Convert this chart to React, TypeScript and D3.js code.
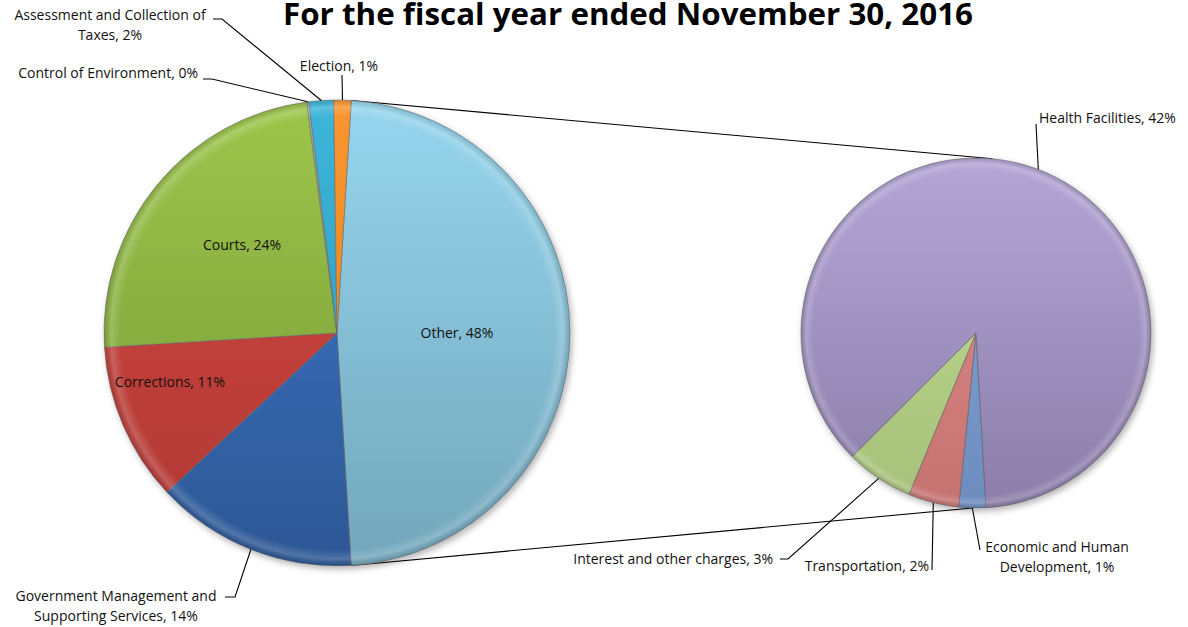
import React from 'react';
import * as d3 from 'd3';

// ---------- data ----------
const leftCategories = [
  'Other',
  'Government Management and Supporting Services',
  'Corrections',
  'Courts',
  'Control of Environment',
  'Assessment and Collection of Taxes',
  'Election',
];
const leftValues = [48.05, 14.0, 11.0, 23.9, 0.15, 1.7, 1.2];

const rightCategories = [
  'Economic and Human Development',
  'Transportation',
  'Interest and other charges',
  'Health Facilities',
];
const rightValues = [1.2, 2.25, 3.0, 41.6];

const title = 'For the fiscal year ended November 30, 2016';

// ---------- layout / style ----------
const W = 1188;
const H = 627;
const L = { cx: 337, cy: 333, r: 233 };
const R = { cx: 976, cy: 333, r: 175 };
const FONT = '"Open Sans", Lato, sans-serif';

const colors: Record<string, [string, string]> = {
  Other: ['#96D6EE', '#72A6BB'],
  'Government Management and Supporting Services': ['#4079CC', '#2C5794'],
  Corrections: ['#D4473F', '#AE3835'],
  Courts: ['#9DC64A', '#759638'],
  'Control of Environment': ['#A8A8A0', '#8A8A84'],
  'Assessment and Collection of Taxes': ['#3CB6DA', '#2A8FB0'],
  Election: ['#FA9630', '#E07E1C'],
  'Health Facilities': ['#B3A5D6', '#8C7EAA'],
  'Interest and other charges': ['#C4DE98', '#A6C07A'],
  Transportation: ['#E58E8B', '#C47270'],
  'Economic and Human Development': ['#8AA9DE', '#6C8CBE'],
};

type LabelLayout = {
  x: number;
  y: number;
  anchor: 'start' | 'middle' | 'end';
  lines?: number; // number of words on first line when wrapped
};

const labelLayout: Record<string, LabelLayout> = {
  Other: { x: 457, y: 338, anchor: 'middle' },
  'Government Management and Supporting Services': { x: 116, y: 601, anchor: 'middle', lines: 3 },
  Corrections: { x: 170, y: 387, anchor: 'middle' },
  Courts: { x: 242, y: 250, anchor: 'middle' },
  'Control of Environment': { x: 198, y: 78, anchor: 'end' },
  'Assessment and Collection of Taxes': { x: 110, y: 20, anchor: 'middle', lines: 4 },
  Election: { x: 339, y: 71, anchor: 'middle' },
  'Health Facilities': { x: 1039, y: 123, anchor: 'start' },
  'Interest and other charges': { x: 773, y: 564, anchor: 'end' },
  Transportation: { x: 929, y: 571, anchor: 'end' },
  'Economic and Human Development': { x: 1057, y: 552, anchor: 'middle', lines: 3 },
};

// leader start points (next to the label text)
const leaderStart: Record<string, [number, number][]> = {
  'Government Management and Supporting Services': [[225, 597], [235, 597]],
  'Control of Environment': [[203, 79], [212, 79]],
  'Assessment and Collection of Taxes': [[213, 19], [222, 19]],
  Election: [[342, 75]],
  'Health Facilities': [[1036, 124]],
  'Interest and other charges': [[780, 559], [788, 559]],
  Transportation: [[932, 570]],
  'Economic and Human Development': [[980, 550]],
};

const deg = Math.PI / 180;

function pointAt(c: { cx: number; cy: number }, r: number, a: number): [number, number] {
  return [c.cx + r * Math.sin(a), c.cy - r * Math.cos(a)];
}

function labelText(cat: string, v: number) {
  return `${cat}, ${Math.round(v)}%`;
}

export default function App() {
  const otherShare = leftValues[0] / d3.sum(leftValues);
  const leftStart = Math.PI / 2 - otherShare * Math.PI;
  const leftPie = d3
    .pie<number>()
    .sort(null)
    .value((d) => d)
    .startAngle(leftStart)
    .endAngle(leftStart + 2 * Math.PI);
  const rightStart = 176.7 * deg;
  const rightPie = d3
    .pie<number>()
    .sort(null)
    .value((d) => d)
    .startAngle(rightStart)
    .endAngle(rightStart + 2 * Math.PI);

  const leftArcs = leftPie(leftValues);
  const rightArcs = rightPie(rightValues);
  const arcL = d3.arc<d3.PieArcDatum<number>>().innerRadius(0).outerRadius(L.r);
  const arcR = d3.arc<d3.PieArcDatum<number>>().innerRadius(0).outerRadius(R.r);

  const otherArc = leftArcs[0];
  const topL = pointAt(L, L.r, otherArc.startAngle);
  const botL = pointAt(L, L.r, otherArc.endAngle);
  const topR = pointAt(R, R.r, 5.4 * deg);
  const botR = pointAt(R, R.r, 181 * deg);

  const gradId = (cat: string) => 'g' + cat.replace(/[^A-Za-z]/g, '');

  const renderLabel = (cat: string, v: number, arcMid: [number, number]) => {
    const lay = labelLayout[cat];
    const txt = labelText(cat, v);
    let lines = [txt];
    if (lay.lines) {
      const words = txt.split(' ');
      lines = [words.slice(0, lay.lines).join(' '), words.slice(lay.lines).join(' ')];
    }
    const start = leaderStart[cat];
    const pts = start ? [...start, arcMid] : null;
    return (
      <g key={cat}>
        {pts && (
          <polyline
            points={pts.map((p) => p.join(',')).join(' ')}
            fill="none"
            stroke="#000"
            strokeWidth={1.1}
          />
        )}
        <text
          x={lay.x}
          y={lay.y}
          textAnchor={lay.anchor}
          fontFamily={FONT}
          fontSize={14}
          fill="#111"
        >
          {lines.map((ln, i) => (
            <tspan key={i} x={lay.x} dy={i === 0 ? 0 : 20}>
              {ln}
            </tspan>
          ))}
        </text>
      </g>
    );
  };

  const bevel = (id: string, r: number) => (
    <radialGradient id={id} gradientUnits="userSpaceOnUse" cx={0} cy={0} r={r}>
      <stop offset="0%" stopColor="#fff" stopOpacity={0} />
      <stop offset="93%" stopColor="#fff" stopOpacity={0} />
      <stop offset="97%" stopColor="#fff" stopOpacity={0.18} />
      <stop offset="100%" stopColor="#000" stopOpacity={0.12} />
    </radialGradient>
  );

  return (
    <svg
      width={W}
      height={H}
      viewBox={`0 0 ${W} ${H}`}
      style={{ position: 'absolute', left: 0, top: 0, background: '#fff' }}
    >
      <defs>
        {leftCategories.map((c) => (
          <linearGradient
            key={c}
            id={gradId(c)}
            gradientUnits="userSpaceOnUse"
            x1={0}
            y1={-L.r}
            x2={0}
            y2={L.r}
          >
            <stop offset="0%" stopColor={colors[c][0]} />
            <stop offset="100%" stopColor={colors[c][1]} />
          </linearGradient>
        ))}
        {rightCategories.map((c) => (
          <linearGradient
            key={c}
            id={gradId(c)}
            gradientUnits="userSpaceOnUse"
            x1={0}
            y1={-R.r}
            x2={0}
            y2={R.r}
          >
            <stop offset="0%" stopColor={colors[c][0]} />
            <stop offset="100%" stopColor={colors[c][1]} />
          </linearGradient>
        ))}
        {bevel('bevelL', L.r)}
        {bevel('bevelR', R.r)}
        <filter id="shadow" x="-10%" y="-10%" width="120%" height="120%">
          <feDropShadow dx={2} dy={3} stdDeviation={3} floodColor="#000" floodOpacity={0.3} />
        </filter>
      </defs>

      <text
        x={628}
        y={25}
        textAnchor="middle"
        fontFamily={FONT}
        fontWeight={700}
        fontSize={30}
        textLength={690}
        lengthAdjust="spacingAndGlyphs"
        fill="#000"
      >
        {title}
      </text>

      {/* series connector lines */}
      <line x1={topL[0]} y1={topL[1]} x2={topR[0]} y2={topR[1]} stroke="#000" strokeWidth={1.1} />
      <line x1={botL[0]} y1={botL[1]} x2={botR[0]} y2={botR[1]} stroke="#000" strokeWidth={1.1} />

      <g transform={`translate(${L.cx},${L.cy})`}>
        <g filter="url(#shadow)">
          {leftArcs.map((a, i) => (
            <path
              key={i}
              d={arcL(a) || ''}
              fill={`url(#${gradId(leftCategories[i])})`}
              stroke="#6a6a6a"
              strokeWidth={0.8}
              strokeOpacity={0.7}
            />
          ))}
        </g>
        {leftArcs.map((a, i) => (
          <path key={'b' + i} d={arcL(a) || ''} fill="url(#bevelL)" stroke="none" />
        ))}
      </g>
      <g transform={`translate(${R.cx},${R.cy})`}>
        <g filter="url(#shadow)">
          {rightArcs.map((a, i) => (
            <path
              key={i}
              d={arcR(a) || ''}
              fill={`url(#${gradId(rightCategories[i])})`}
              stroke="#5e5e5e"
              strokeWidth={0.8}
              strokeOpacity={0.7}
            />
          ))}
        </g>
        {rightArcs.map((a, i) => (
          <path key={'b' + i} d={arcR(a) || ''} fill="url(#bevelR)" stroke="none" />
        ))}
      </g>

      {leftArcs.map((a, i) =>
        renderLabel(leftCategories[i], leftValues[i], pointAt(L, L.r, (a.startAngle + a.endAngle) / 2))
      )}
      {rightArcs.map((a, i) =>
        renderLabel(rightCategories[i], rightValues[i], pointAt(R, R.r, (a.startAngle + a.endAngle) / 2))
      )}
    </svg>
  );
}
